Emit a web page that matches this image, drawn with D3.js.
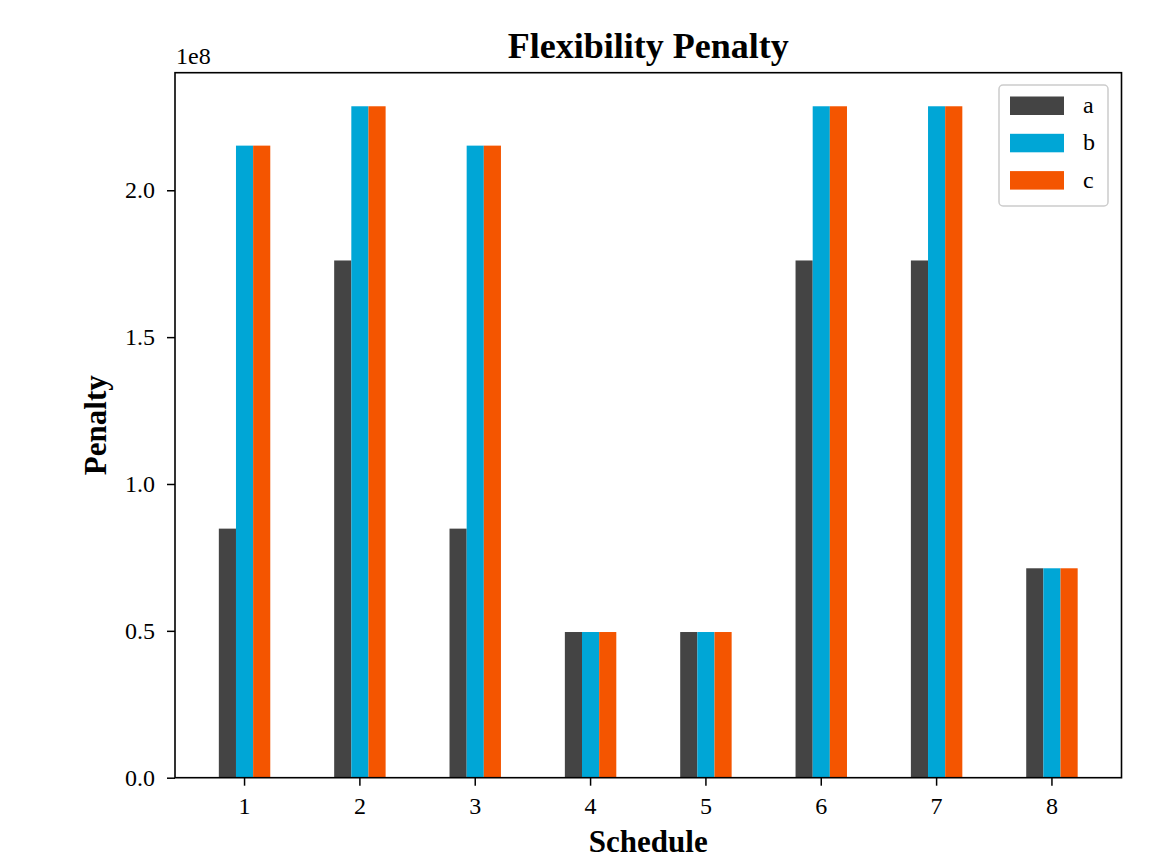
<!DOCTYPE html>
<html><head><meta charset="utf-8">
<script src="https://cdn.jsdelivr.net/npm/d3@7"></script>
<style>body{margin:0;background:#fff}svg{display:block}text{font-family:"Liberation Serif","Times New Roman",serif}</style>
</head><body>
<script>
const categories = ["1","2","3","4","5","6","7","8"];
const seriesNames = ["a","b","c"];
const seriesA = [0.848e8, 1.761e8, 0.848e8, 0.496e8, 0.496e8, 1.761e8, 1.761e8, 0.713e8];
const seriesB = [2.152e8, 2.286e8, 2.152e8, 0.496e8, 0.496e8, 2.286e8, 2.286e8, 0.713e8];
const seriesC = [2.152e8, 2.286e8, 2.152e8, 0.496e8, 0.496e8, 2.286e8, 2.286e8, 0.713e8];
const yTicks = [0, 0.5e8, 1.0e8, 1.5e8, 2.0e8];
const colors = ["#444444", "#00a6d6", "#f45500"];

const W = 1171, H = 866;
const m = {l:175, r:1121.5, t:72.7, b:777.7};
const svg = d3.select("body").append("svg").attr("width", W).attr("height", H);

const series = [seriesA, seriesB, seriesC];
const ymax = d3.max(series.flat()) * 1.05;
const y = d3.scaleLinear().domain([0, ymax]).range([m.b, m.t]);
const x = d3.scaleBand().domain(categories).range([m.l, m.r]).paddingInner(0.554).paddingOuter(0.38);
const xs = d3.scaleBand().domain(seriesNames).range([0, x.bandwidth()]);

const g = svg.append("g");
seriesNames.forEach((s, si) => {
  g.selectAll(".bar" + s).data(categories).enter().append("rect")
    .attr("x", c => x(c) + xs(s))
    .attr("width", xs.bandwidth())
    .attr("y", (c, i) => y(series[si][i]))
    .attr("height", (c, i) => y(0) - y(series[si][i]))
    .attr("fill", colors[si]);
});

// axes
const xAxis = svg.append("g").attr("transform", `translate(0,${m.b})`)
  .call(d3.axisBottom(x).tickSize(8).tickPadding(11).tickSizeOuter(0));
const yAxis = svg.append("g").attr("transform", `translate(${m.l},0)`)
  .call(d3.axisLeft(y).tickValues(yTicks).tickFormat(d => (d/1e8).toFixed(1)).tickSize(8).tickPadding(12).tickSizeOuter(0));
[xAxis, yAxis].forEach(a => {
  a.select(".domain").remove();
  a.selectAll(".tick line").attr("stroke", "#000").attr("stroke-width", 1.5);
  a.selectAll(".tick text").attr("font-size", 24).attr("fill", "#000")
    .style("font-family", '"Liberation Serif", serif');
});
// frame
svg.append("rect").attr("x", m.l).attr("y", m.t).attr("width", m.r - m.l).attr("height", m.b - m.t)
  .attr("fill", "none").attr("stroke", "#000").attr("stroke-width", 1.6);

// offset text
svg.append("text").attr("x", m.l + 1).attr("y", 64).attr("font-size", 24).text("1e8");

// title
svg.append("text").attr("x", (m.l + m.r)/2).attr("y", 58).attr("text-anchor", "middle")
  .attr("font-size", 36).attr("font-weight", "bold").text("Flexibility Penalty");
// axis labels
svg.append("text").attr("x", (m.l + m.r)/2).attr("y", 852).attr("text-anchor", "middle")
  .attr("font-size", 31).attr("font-weight", "bold").text("Schedule");
svg.append("text").attr("transform", `translate(106,${(m.t + m.b)/2}) rotate(-90)`).attr("text-anchor", "middle")
  .attr("font-size", 31).attr("font-weight", "bold").text("Penalty");

// legend
const lg = svg.append("g");
lg.append("rect").attr("x", 999).attr("y", 85).attr("width", 109).attr("height", 121).attr("rx", 4)
  .attr("fill", "#fff").attr("fill-opacity", 0.8).attr("stroke", "#cccccc").attr("stroke-width", 1.5);
seriesNames.forEach((s, i) => {
  lg.append("rect").attr("x", 1010).attr("y", 96.5 + i*37.3).attr("width", 54).attr("height", 18.5).attr("fill", colors[i]);
  lg.append("text").attr("x", 1083).attr("y", 113 + i*37.3).attr("font-size", 24).text(s);
});
</script>
</body></html>
